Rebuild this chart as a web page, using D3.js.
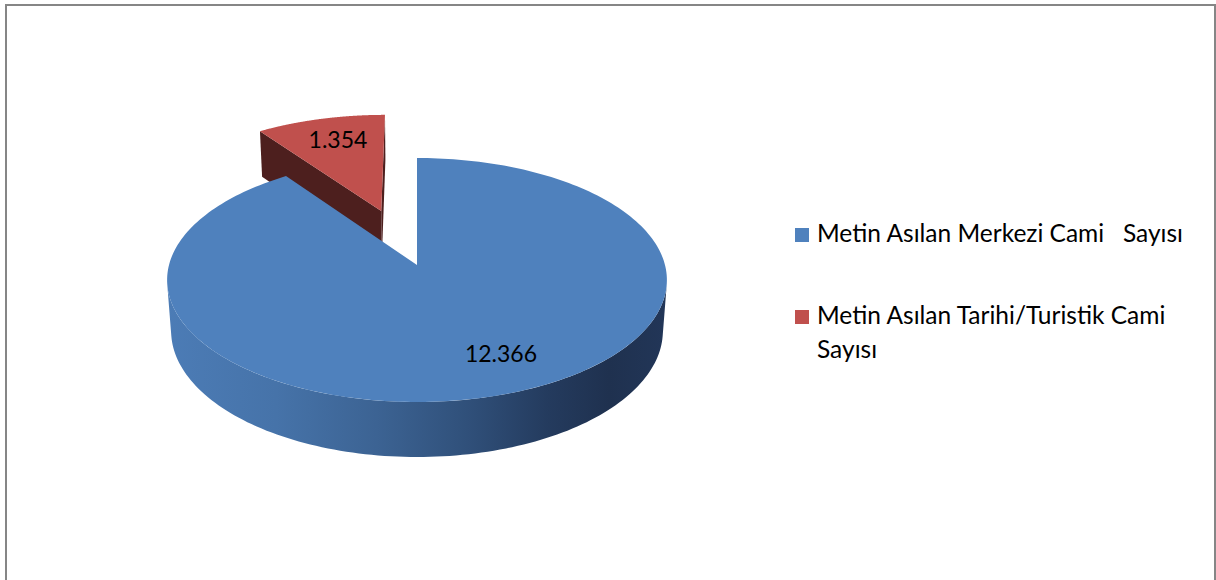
<!DOCTYPE html>
<html>
<head>
<meta charset="utf-8">
<script src="https://cdn.jsdelivr.net/npm/d3@7"></script>
<style>
  html, body { margin: 0; padding: 0; background: #fff; }
  svg { display: block; }
  text { font-family: Lato, "Open Sans", sans-serif; fill: #000; }
</style>
</head>
<body>
<svg id="chart" width="1216" height="580"></svg>
<script>
// Mosque counts
const categories = [
  "Metin Asılan Merkezi Cami   Sayısı",
  "Metin Asılan Tarihi/Turistik Cami Sayısı"
];
const values = [12366, 1354];
const valueLabels = ["12.366", "1.354"];
const colors = ["#4F81BD", "#C0504D"];
const sideColors = ["#4F81BD", "#4d1f1e"];
const explode = [0, 0.5];

const W = 1216, H = 580;
const svg = d3.select("#chart");

// frame
svg.append("rect")
  .attr("x", 6).attr("y", 5)
  .attr("width", 1209).attr("height", 600)
  .attr("fill", "none").attr("stroke", "#868686").attr("stroke-width", 2);

// 3D camera for the pie
const cx = 417, cy = 265, scale = 248;
const phi = 28.98 * Math.PI / 180;
const sinP = Math.sin(phi), cosP = Math.cos(phi);
const dist = 7.12;
const thick = 0.2366;

function project(u, v, h) {
  const xc = u;
  const yc = v * sinP + h * cosP;
  const zc = dist + v * cosP - h * sinP;
  const f = scale * dist / zc;
  return [cx + xc * f, cy - yc * f];
}

// pie layout: first slice starts at 12 o'clock and runs clockwise
const arcs = d3.pie().sort(null).startAngle(0).endAngle(2 * Math.PI)(values);

const defs = svg.append("defs");
const grad = defs.append("linearGradient")
  .attr("id", "sideBlue")
  .attr("gradientUnits", "userSpaceOnUse")
  .attr("x1", cx - scale - 4).attr("x2", cx + scale + 4)
  .attr("y1", 0).attr("y2", 0);
[["0%", "#4c7cb6"], ["22%", "#4673a9"], ["42%", "#3c6393"], ["60%", "#30507a"],
 ["76%", "#243b5e"], ["88%", "#1f314f"], ["100%", "#223658"]]
  .forEach(([o, c]) => grad.append("stop").attr("offset", o).attr("stop-color", c));

function pathFrom(pts) {
  return "M" + pts.map(p => p[0].toFixed(2) + "," + p[1].toFixed(2)).join("L") + "Z";
}

function arcPoints(ou, ov, a0, a1, h, n) {
  const pts = [];
  for (let i = 0; i <= n; i++) {
    const a = a0 + (a1 - a0) * i / n;
    pts.push(project(ou + Math.sin(a), ov + Math.cos(a), h));
  }
  return pts;
}

// camera position in pie coordinates
const cam = [0, -dist * cosP, dist * sinP];

function drawSlice(d, i) {
  const mid = (d.startAngle + d.endAngle) / 2;
  const ou = Math.sin(mid) * explode[i];
  const ov = Math.cos(mid) * explode[i];
  const g = svg.append("g");

  // radial faces
  [[d.startAngle, -1], [d.endAngle, 1]].forEach(([a, sgn]) => {
    const nu = Math.cos(a) * sgn, nv = -Math.sin(a) * sgn;
    const dot = (cam[0] - ou) * nu + (cam[1] - ov) * nv;
    if (dot > 1e-6) {
      const pts = [project(ou, ov, 0), project(ou + Math.sin(a), ov + Math.cos(a), 0),
                   project(ou + Math.sin(a), ov + Math.cos(a), -thick), project(ou, ov, -thick)];
      g.append("path").attr("d", pathFrom(pts)).attr("fill", sideColors[i]);
    }
  });

  // outer wall, front-facing part only
  const lim = Math.acos(-1 / (dist * cosP));
  const w0 = Math.max(d.startAngle, lim), w1 = Math.min(d.endAngle, 2 * Math.PI - lim);
  if (w1 > w0) {
    const top = arcPoints(ou, ov, w0, w1, 0, 120);
    const bot = arcPoints(ou, ov, w1, w0, -thick, 120);
    g.append("path").attr("d", pathFrom(top.concat(bot)))
      .attr("fill", i === 0 ? "url(#sideBlue)" : sideColors[i]);
  }

  // top face
  const topPts = [project(ou, ov, 0)].concat(arcPoints(ou, ov, d.startAngle, d.endAngle, 0, 240));
  g.append("path").attr("d", pathFrom(topPts)).attr("fill", colors[i]);
}

// far slice first, then the large front slice
drawSlice(arcs[1], 1);
drawSlice(arcs[0], 0);

// value labels
const labelPos = [[501, 362], [338, 148]];
arcs.forEach((d, i) => {
  svg.append("text")
    .attr("x", labelPos[i][0]).attr("y", labelPos[i][1])
    .attr("text-anchor", "middle")
    .style("font-size", "23px")
    .text(valueLabels[i]);
});

// legend
const legend = svg.append("g").attr("transform", "translate(795,228)");
const legendLines = [["Metin Asılan Merkezi Cami   Sayısı"], ["Metin Asılan Tarihi/Turistik Cami", "Sayısı"]];
const legendY = [0, 82];
categories.forEach((c, i) => {
  const row = legend.append("g").attr("transform", `translate(0,${legendY[i]})`);
  row.append("rect").attr("width", 14).attr("height", 14).attr("fill", colors[i]);
  const t = row.append("text").attr("x", 22).attr("y", 14)
    .style("font-size", "24.5px").attr("xml:space", "preserve").style("white-space", "pre");
  legendLines[i].forEach((ln, j) => {
    t.append("tspan").attr("x", 22).attr("dy", j === 0 ? 0 : 34).text(ln);
  });
});
</script>
</body>
</html>
